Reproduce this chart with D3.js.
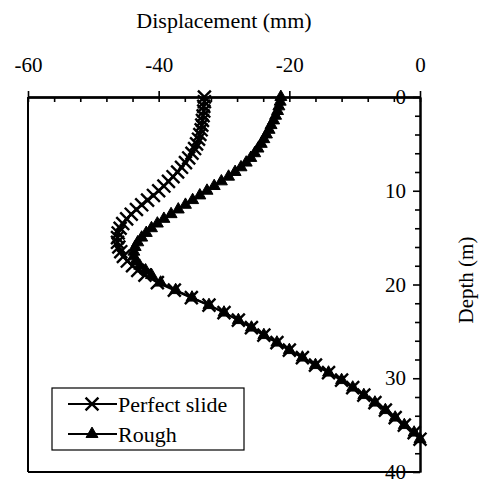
<!DOCTYPE html>
<html>
<head>
<meta charset="utf-8">
<script src="https://cdn.jsdelivr.net/npm/d3@7"></script>
<style>
  body { margin: 0; background: #fff; }
  text { font-family: "Liberation Serif", "Times New Roman", serif; fill: #000; }
</style>
</head>
<body>
<div id="chart"></div>
<script>
// depth (m) of each data point
const depths = [0, 0.5, 1, 1.5, 2, 2.5, 3, 3.5, 4, 4.5, 5, 5.5, 6, 6.5, 7, 7.5, 8, 8.5, 9, 9.5,
    10, 10.5, 11, 11.5, 12, 12.5, 13, 13.5, 14, 14.5, 15, 15.5, 16, 16.5, 17, 17.5, 18, 18.5,
    19, 19.8, 20.6, 21.4, 22.2, 23, 23.8, 24.6, 25.4, 26.2, 27, 27.8, 28.6, 29.4, 30.2,
    31, 31.8, 32.6, 33.4, 34.2, 35, 35.8, 36.5];

// displacement (mm) - perfect slide
const perfectSlide = [-33.0, -33.0, -33.1, -33.1, -33.2, -33.3, -33.4, -33.5, -33.7, -33.9,
    -34.2, -34.5, -34.9, -35.4, -35.9, -36.5, -37.1, -37.8, -38.5, -39.2,
    -40.0, -40.8, -41.7, -42.6, -43.4, -44.2, -44.9, -45.5, -45.9, -46.2,
    -46.3, -46.3, -46.1, -45.8, -45.4, -44.8, -44.0, -43.2,
    -42.1, -40.2, -37.6, -35.0, -32.3, -30.0, -27.8, -25.8, -23.9, -21.9, -20.0, -18.0,
    -16.0, -14.0, -12.0, -10.3, -8.6, -6.9, -5.3, -3.8, -2.4, -0.9, 0];

// displacement (mm) - rough
const rough = [-21.3, -21.4, -21.6, -21.8, -22.1, -22.4, -22.8, -23.1, -23.5, -23.9,
    -24.3, -24.8, -25.3, -25.9, -26.6, -27.4, -28.3, -29.3, -30.4, -31.5,
    -32.6, -33.7, -34.8, -35.9, -37.0, -38.1, -39.2, -40.2, -41.1, -41.9,
    -42.6, -43.2, -43.6, -43.8, -43.8, -43.5, -42.9, -42.0,
    -41.1, -39.7, -37.4, -34.9, -32.3, -30.0, -27.8, -25.8, -23.9, -21.9, -20.0, -18.0,
    -16.0, -14.0, -12.0, -10.3, -8.6, -6.9, -5.3, -3.8, -2.4, -0.9, 0];

const xMajor = [-60, -40, -20, 0];
const xMinor = [-56, -52, -48, -44, -36, -32, -28, -24, -16, -12, -8, -4];
const yMajor = [0, 10, 20, 30, 40];
const yMinor = [2, 4, 6, 8, 12, 14, 16, 18, 22, 24, 26, 28, 32, 34, 36, 38];

const seriesNames = ["Perfect slide", "Rough"];

const width = 479, height = 483;

const x = d3.scaleLinear().domain([-60, 0]).range([28, 420]);
const y = d3.scaleLinear().domain([0, 40]).range([97, 472]);

const svg = d3.select("#chart").append("svg")
    .attr("width", width)
    .attr("height", height);

// frame: left and bottom borders
svg.append("line")
    .attr("x1", x(-60)).attr("x2", x(-60))
    .attr("y1", y(0)).attr("y2", y(40))
    .attr("stroke", "#000").attr("stroke-width", 2);
svg.append("line")
    .attr("x1", x(-60)).attr("x2", x(0))
    .attr("y1", y(40)).attr("y2", y(40))
    .attr("stroke", "#000").attr("stroke-width", 2);

// top axis
const gx = svg.append("g").attr("transform", "translate(0," + y(0) + ")");
gx.append("g").call(d3.axisTop(x).tickValues(xMajor).tickSize(6).tickSizeOuter(0)
    .tickPadding(19).tickFormat(d => String(d)));
gx.append("g").call(d3.axisTop(x).tickValues(xMajor).tickSize(-5).tickSizeOuter(0).tickFormat(""));
gx.append("g").call(d3.axisTop(x).tickValues(xMinor).tickSize(-5).tickSizeOuter(0).tickFormat(""));

// right axis, labels inside
const gy = svg.append("g").attr("transform", "translate(" + x(0) + ",0)");
gy.append("g").call(d3.axisLeft(y).tickValues(yMajor).tickSize(7).tickSizeOuter(0)
    .tickPadding(7).tickFormat(d => String(d)));
gy.append("g").call(d3.axisLeft(y).tickValues(yMinor).tickSize(5).tickSizeOuter(0).tickFormat(""));

svg.selectAll(".domain").attr("stroke-width", 2);
svg.selectAll(".tick line").attr("stroke-width", 1.6);
svg.selectAll(".tick text")
    .style("font-family", '"Liberation Serif", serif')
    .style("font-size", "21px");

// axis titles
svg.append("text")
    .attr("x", 224).attr("y", 28)
    .attr("text-anchor", "middle")
    .style("font-size", "22px")
    .text("Displacement (mm)");
svg.append("text")
    .attr("transform", "translate(473,280) rotate(-90)")
    .attr("text-anchor", "middle")
    .style("font-size", "21px")
    .text("Depth (m)");

const line = d3.line()
    .x(d => x(d.v))
    .y(d => y(d.depth));

function markerX() {
    if (d3.symbolX) return d3.symbol(d3.symbolX, 110)();
    return "M-6,-6L6,6M-6,6L6,-6";
}
const triPath = d3.symbol(d3.symbolTriangle, 62)();

function drawSeries(values, kind) {
    const data = values.map((v, i) => ({ v: v, depth: depths[i] }));
    const g = svg.append("g");
    g.append("path")
        .datum(data)
        .attr("d", line)
        .attr("fill", "none")
        .attr("stroke", "#000")
        .attr("stroke-width", 2.2);
    g.selectAll(".m")
        .data(data)
        .enter().append("path")
        .attr("transform", d => "translate(" + x(d.v) + "," + y(d.depth) + ")")
        .attr("d", kind === "x" ? markerX() : triPath)
        .attr("fill", kind === "x" ? "none" : "#000")
        .attr("stroke", "#000")
        .attr("stroke-width", kind === "x" ? 2.4 : 1);
}

drawSeries(perfectSlide, "x");
drawSeries(rough, "tri");

// legend
const legend = svg.append("g");
legend.append("rect")
    .attr("x", 52).attr("y", 388)
    .attr("width", 192).attr("height", 62)
    .attr("fill", "#fff")
    .attr("stroke", "#000").attr("stroke-width", 1.2);

seriesNames.forEach((name, i) => {
    const ly = 404 + i * 30;
    legend.append("line")
        .attr("x1", 68).attr("x2", 117)
        .attr("y1", ly).attr("y2", ly)
        .attr("stroke", "#000").attr("stroke-width", 2);
    legend.append("path")
        .attr("transform", "translate(92," + ly + ")")
        .attr("d", i === 0 ? markerX() : triPath)
        .attr("fill", i === 0 ? "none" : "#000")
        .attr("stroke", "#000")
        .attr("stroke-width", i === 0 ? 2.4 : 1);
    legend.append("text")
        .attr("x", 118).attr("y", ly + 8)
        .style("font-size", "22px")
        .text(name);
});
</script>
</body>
</html>
